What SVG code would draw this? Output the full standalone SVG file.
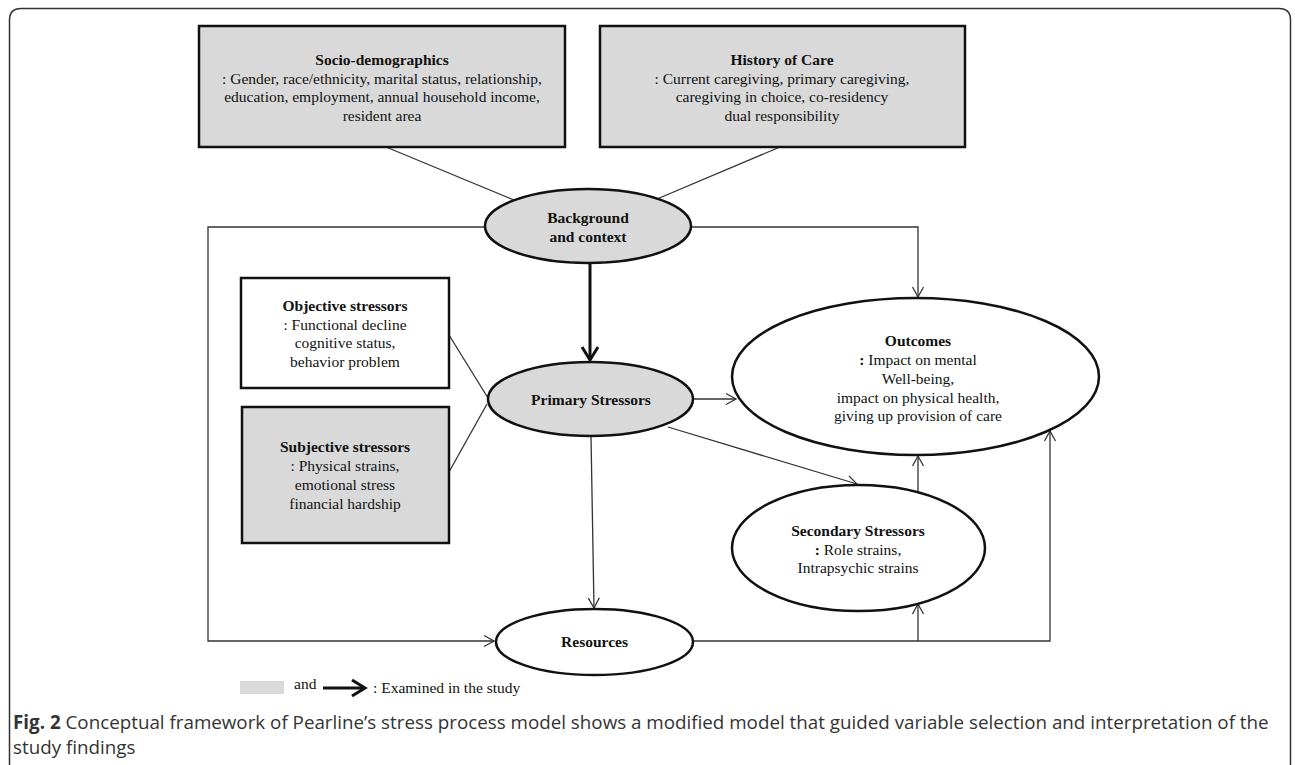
<svg xmlns="http://www.w3.org/2000/svg" width="1295" height="765" viewBox="0 0 1295 765">
<style>
.box{stroke:#111;stroke-width:2.5}
.gray{fill:#d9d9d9}
.white{fill:#fff}
.t{font-family:"Liberation Serif","Times New Roman",serif;font-size:15.5px;fill:#111;text-anchor:middle}
.b{font-weight:bold}
.c{fill:none;stroke:#333;stroke-width:1.3}
.thick{fill:none;stroke:#111;stroke-width:3}
.cap{font-family:"Open Sans","Noto Sans",sans-serif;font-size:18.8px;fill:#333}
</style>
<defs>
<marker id="arr" markerUnits="userSpaceOnUse" markerWidth="14" markerHeight="14" viewBox="0 0 14 14" refX="12" refY="7" orient="auto">
<path d="M2,1.5 L12,7 L2,12.5" fill="none" stroke="#333" stroke-width="1.3"/>
</marker>
<marker id="arrT" markerUnits="userSpaceOnUse" markerWidth="20" markerHeight="20" viewBox="0 0 20 20" refX="17" refY="10" orient="auto">
<path d="M4,2 L17,10 L4,18" fill="none" stroke="#111" stroke-width="3"/>
</marker>
</defs>
<rect width="1295" height="765" fill="#fff"/>
<path d="M9.5,765 V20 Q9.5,8.5 21,8.5 H1279 Q1290.5,8.5 1290.5,20 V765" fill="none" stroke="#333" stroke-width="1.5"/>

<g id="connectors">
<line class="c" x1="386" y1="147" x2="514" y2="200"/>
<line class="c" x1="780" y1="147" x2="657" y2="199"/>
<path class="c" d="M485,227 H208 V641 H494" marker-end="url(#arr)"/>
<path class="c" d="M691,227 H918 V297" marker-end="url(#arr)"/>
<line class="thick" x1="590" y1="263" x2="590" y2="360" marker-end="url(#arrT)"/>
<line class="c" x1="449" y1="335" x2="488" y2="398"/>
<line class="c" x1="449" y1="472" x2="487" y2="404"/>
<line class="c" x1="693" y1="399" x2="736" y2="399" marker-end="url(#arr)"/>
<line class="c" x1="668" y1="427" x2="857" y2="484" marker-end="url(#arr)"/>
<line class="c" x1="591" y1="436" x2="594" y2="608" marker-end="url(#arr)"/>
<path class="c" d="M693,641 H1050 V431" marker-end="url(#arr)"/>
<line class="c" x1="918" y1="641" x2="918" y2="604" marker-end="url(#arr)"/>
<line class="c" x1="918" y1="492" x2="918" y2="456" marker-end="url(#arr)"/>
</g>

<g id="socio">
<rect class="box gray" x="199" y="26" width="366" height="121"/>
<text class="t b" x="382" y="65">Socio-demographics</text>
<text class="t" x="382" y="84">: Gender, race/ethnicity, marital status, relationship,</text>
<text class="t" x="382" y="102">education, employment, annual household income,</text>
<text class="t" x="382" y="121">resident area</text>
</g>

<g id="history">
<rect class="box gray" x="600" y="26" width="365" height="121"/>
<text class="t b" x="782" y="65">History of Care</text>
<text class="t" x="782" y="84">: Current caregiving, primary caregiving,</text>
<text class="t" x="782" y="102">caregiving in choice, co-residency</text>
<text class="t" x="782" y="121">dual responsibility</text>
</g>

<g id="background">
<ellipse class="box gray" cx="588" cy="226" rx="103" ry="37"/>
<text class="t b" x="588" y="223">Background</text>
<text class="t b" x="588" y="242">and context</text>
</g>

<g id="objective">
<rect class="box white" x="241" y="278" width="208" height="110"/>
<text class="t b" x="345" y="311">Objective stressors</text>
<text class="t" x="345" y="330">: Functional decline</text>
<text class="t" x="345" y="348">cognitive status,</text>
<text class="t" x="345" y="367">behavior problem</text>
</g>

<g id="subjective">
<rect class="box gray" x="242" y="407" width="207" height="136"/>
<text class="t b" x="345" y="452">Subjective stressors</text>
<text class="t" x="345" y="471">: Physical strains,</text>
<text class="t" x="345" y="490">emotional stress</text>
<text class="t" x="345" y="509">financial hardship</text>
</g>

<g id="primary">
<ellipse class="box gray" cx="590.5" cy="399" rx="102.5" ry="37"/>
<text class="t b" x="591" y="405">Primary Stressors</text>
</g>

<g id="outcomes">
<ellipse class="box white" cx="915.5" cy="376.5" rx="183.5" ry="78.5"/>
<text class="t b" x="918" y="346">Outcomes</text>
<text class="t" x="918" y="365"><tspan class="b">:</tspan> Impact on mental</text>
<text class="t" x="918" y="384">Well-being,</text>
<text class="t" x="918" y="403">impact on physical health,</text>
<text class="t" x="918" y="421">giving up provision of care</text>
</g>

<g id="secondary">
<ellipse class="box white" cx="858.5" cy="548" rx="126.5" ry="63"/>
<text class="t b" x="858" y="536">Secondary Stressors</text>
<text class="t" x="858" y="555"><tspan class="b">:</tspan> Role strains,</text>
<text class="t" x="858" y="573">Intrapsychic strains</text>
</g>

<g id="resources">
<ellipse class="box white" cx="594.5" cy="642" rx="98.5" ry="33"/>
<text class="t b" x="594.5" y="647">Resources</text>
</g>

<g id="legend">
<rect x="240" y="681" width="44" height="13" fill="#d9d9d9"/>
<text class="t" x="294" y="689" style="text-anchor:start">and</text>
<line class="thick" x1="323" y1="688" x2="365" y2="688" marker-end="url(#arrT)"/>
<text class="t" x="373" y="693" style="text-anchor:start">: Examined in the study</text>
</g>

<g id="caption">
<text class="cap" x="13" y="729"><tspan font-weight="bold">Fig. 2</tspan> Conceptual framework of Pearline’s stress process model shows a modified model that guided variable selection and interpretation of the</text>
<text class="cap" x="13" y="754">study findings</text>
</g>
</svg>
